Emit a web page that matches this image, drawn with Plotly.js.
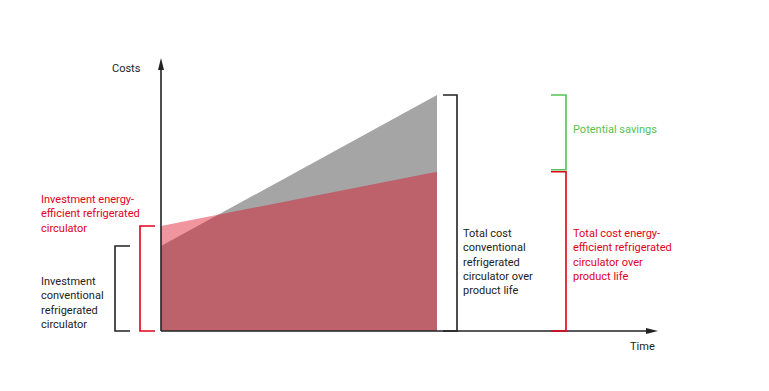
<!DOCTYPE html>
<html>
<head>
<meta charset="utf-8">
<script src="https://cdn.plot.ly/plotly-3.0.1.min.js"></script>
<style>html,body{margin:0;padding:0;background:#fff;}#chart{width:769px;height:391px;}</style>
</head>
<body>
<div id="chart"></div>
<script>
// ---- data (arbitrary cost units over time) ----
var time = [0, 10];                 // start, end of product life
var costConventional = [36, 100];   // investment -> total cost (conventional)
var costEfficient = [44.5, 67.5];   // investment -> total cost (energy-efficient)
var labelInvestConv = 'Investment<br>conventional<br>refrigerated<br>circulator';
var labelInvestEff = 'Investment energy-<br>efficient refrigerated<br>circulator';
var labelTotalConv = 'Total cost<br>conventional<br>refrigerated<br>circulator over<br>product life';
var labelTotalEff = 'Total cost energy-<br>efficient refrigerated<br>circulator over<br>product life';
var labelSavings = 'Potential savings';
var axisLabelX = 'Time';
var axisLabelY = 'Costs';

// ---- layout geometry ----
var W = 769, H = 391;
var px0 = 161, pxEnd = 437, py0 = 331, pyTop = 95;
var sx = (pxEnd - px0) / (time[1] - time[0]);
var sy = (py0 - pyTop) / costConventional[1];
var xr = [-px0 / sx, (W - px0) / sx];
var yr = [-(H - py0) / sy, py0 / sy];
function dx(px) { return (px - px0) / sx; }   // pixel -> data x
function dpx(n) { return n / sx; }
function dpy(n) { return n / sy; }
var xTip = dx(658), yTip = (py0 - 58) / sy;

var BLACK = '#222222', RED = '#e2001a', GREEN = '#55c255';
var FONT = 'Roboto, "Liberation Sans", sans-serif';
var FS = 11;

var traces = [
  {x: time, y: costConventional, type: 'scatter', mode: 'lines', fill: 'tozeroy',
   line: {width: 0, color: '#a5a5a5'}, fillcolor: '#a5a5a5', hoverinfo: 'skip'},
  {x: time, y: costEfficient, type: 'scatter', mode: 'lines', fill: 'tozeroy',
   line: {width: 0, color: 'rgba(220,12,35,0.44)'}, fillcolor: 'rgba(220,12,35,0.44)', hoverinfo: 'skip'}
];

function bracket(xOuter, xInner, yLo, yHi, color) {
  return {type: 'path', xref: 'x', yref: 'y',
    path: 'M' + xInner + ',' + yHi + ' L' + xOuter + ',' + yHi + ' L' + xOuter + ',' + yLo + ' L' + xInner + ',' + yLo,
    line: {color: color, width: 1.6}};
}

var headL = 12, headW = 3;
var shapes = [
  // axes
  {type: 'line', xref: 'x', yref: 'y', x0: 0, y0: 0, x1: xTip - dpx(headL), y1: 0, line: {color: BLACK, width: 1.6}},
  {type: 'line', xref: 'x', yref: 'y', x0: 0, y0: 0, x1: 0, y1: yTip - dpy(headL), line: {color: BLACK, width: 1.6}},
  {type: 'path', xref: 'x', yref: 'y', fillcolor: BLACK, line: {width: 0},
   path: 'M' + xTip + ',0 L' + (xTip - dpx(headL)) + ',' + dpy(headW) + ' L' + (xTip - dpx(headL)) + ',' + (-dpy(headW)) + ' Z'},
  {type: 'path', xref: 'x', yref: 'y', fillcolor: BLACK, line: {width: 0},
   path: 'M0,' + yTip + ' L' + dpx(headW) + ',' + (yTip - dpy(headL)) + ' L' + (-dpx(headW)) + ',' + (yTip - dpy(headL)) + ' Z'},
  // brackets
  bracket(dx(115), dx(130), 0, costConventional[0], BLACK),
  bracket(dx(140), dx(155), 0, costEfficient[0], RED),
  bracket(dx(457), dx(443), 0, costConventional[1], BLACK),
  bracket(dx(566), dx(551), costEfficient[1] + dpy(2), costConventional[1], GREEN),
  bracket(dx(566), dx(551), 0, costEfficient[1], RED)
];

function lab(text, px, py, color, anchor) {
  return {text: text, xref: 'paper', yref: 'paper', x: px / W, y: 1 - py / H,
    xanchor: anchor || 'left', yanchor: 'middle', align: 'left', showarrow: false,
    font: {family: FONT, size: FS, color: color}};
}
var annotations = [
  lab(axisLabelY, 126, 68, BLACK, 'center'),
  lab(axisLabelX, 642, 346, BLACK, 'center'),
  lab(labelInvestEff, 39, 214.5, RED),
  lab(labelInvestConv, 39, 302.5, BLACK),
  lab(labelTotalConv, 461, 262, BLACK),
  lab(labelTotalEff, 571, 254.5, RED),
  lab(labelSavings, 571, 129, GREEN)
];

var layout = {
  width: W, height: H, margin: {l: 0, r: 0, t: 0, b: 0},
  paper_bgcolor: '#fff', plot_bgcolor: '#fff', showlegend: false,
  xaxis: {range: xr, visible: false, fixedrange: true},
  yaxis: {range: yr, visible: false, fixedrange: true},
  shapes: shapes, annotations: annotations, hovermode: false
};
Plotly.newPlot('chart', traces, layout, {displayModeBar: false, staticPlot: true});
</script>
</body>
</html>
